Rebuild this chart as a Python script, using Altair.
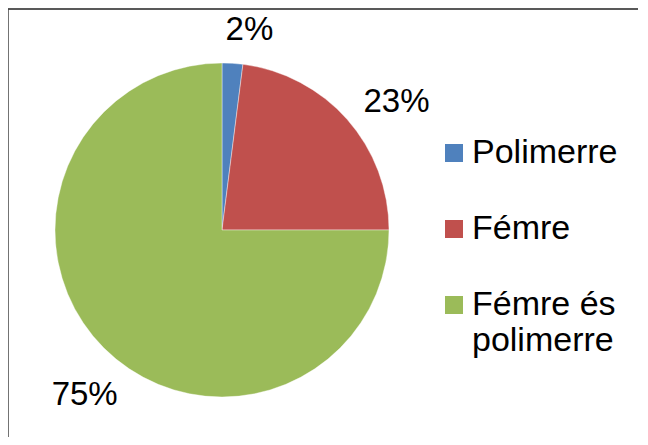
import altair as alt
import pandas as pd

categories = ["Polimerre", "Fémre", "Fémre és polimerre"]
values = [2, 23, 75]
labels = ["2%", "23%", "75%"]
colors = ["#4F81BD", "#C0504D", "#9BBB59"]

df = pd.DataFrame({
    "cat": categories,
    "val": values,
    "lab": labels,
    "idx": list(range(len(categories))),
})

W, H = 630, 428
CX, CY, R = 214, 221, 167
FONT = "Liberation Sans"

base = alt.Chart(df).encode(
    theta=alt.Theta("val:Q", stack=True),
    order=alt.Order("idx:Q", sort="ascending"),
)

pie = base.mark_arc(outerRadius=R, stroke="white", strokeWidth=0.4).encode(
    x=alt.value(CX),
    y=alt.value(CY),
    color=alt.Color(
        "cat:N",
        scale=alt.Scale(domain=categories, range=colors),
        sort=categories,
        legend=alt.Legend(
            title=None,
            orient="none",
            legendX=429,
            legendY=127,
            padding=0,
            symbolType="square",
            symbolSize=324,
            symbolStrokeWidth=0,
            labelFont=FONT,
            labelFontSize=34,
            labelColor="black",
            labelOffset=1,
            rowPadding=42,
            labelLimit=400,
            labelExpr="datum.label == 'Fémre és polimerre' ? ['Fémre és', 'polimerre'] : datum.label",
        ),
    ),
)

text = base.mark_text(radius=214, dx=14, dy=14, font=FONT, fontSize=33, color="black").encode(
    x=alt.value(CX),
    y=alt.value(CY),
    text="lab:N",
)

frame_data = alt.Data(values=[{}])
top_line = alt.Chart(frame_data).mark_rule(color="#222222", strokeWidth=1.5).encode(
    x=alt.value(0), x2=alt.value(W + 2), y=alt.value(0)
)
left_line = alt.Chart(frame_data).mark_rule(color="#444444", strokeWidth=1.5).encode(
    x=alt.value(0), y=alt.value(0), y2=alt.value(H)
)

chart = (
    alt.layer(top_line, left_line, pie, text)
    .properties(
        width=W,
        height=H,
        autosize="none",
        padding={"left": 0, "top": 1, "right": 0, "bottom": 0},
        background="white",
    )
    .configure_view(strokeWidth=0)
)

chart.save("out.html", embed_options={"renderer": "svg", "actions": False})
